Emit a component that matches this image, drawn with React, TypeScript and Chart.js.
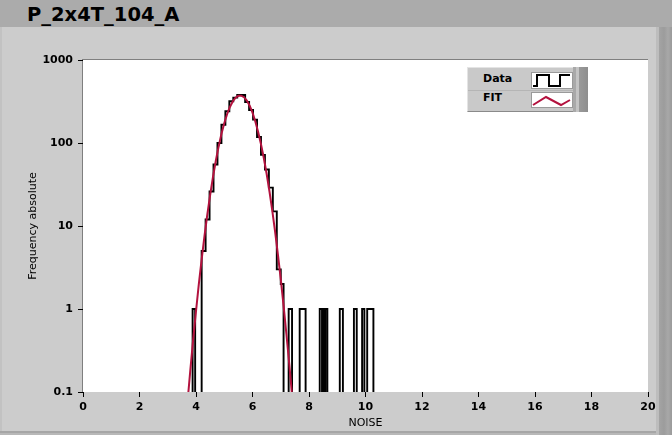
import React, { useEffect, useRef } from "react";
import { Chart, registerables } from "chart.js";

Chart.register(...registerables);

// Histogram: bin edges (NOISE) and the counts in each bin (edges[i] .. edges[i+1])
const histEdges = [
  3.88, 3.97, 4.2, 4.34, 4.48, 4.62, 4.76, 4.9, 5.04, 5.18, 5.32, 5.46, 5.6,
  5.74, 5.88, 6.02, 6.16, 6.3, 6.44, 6.58, 6.72, 6.86, 7.0, 7.1, 7.28, 7.4,
  7.67, 7.88, 8.38, 8.46, 8.51, 8.55, 8.58, 8.65, 9.09, 9.2, 9.59, 9.69, 9.88,
  9.96, 10.06, 10.28,
];
const histCounts = [
  1, 0, 5, 12, 26, 55, 100, 166, 241, 318, 352, 380, 378, 312, 250, 191, 118,
  72, 48, 29, 15, 3, 2, 0, 1, 0, 1, 0, 1, 0, 1, 0, 1, 0, 1, 0, 1, 0, 1, 0, 1,
];

// Fit curve
const fitX = [
  3.7, 3.8, 3.9, 4.0, 4.1, 4.2, 4.3, 4.4, 4.5, 4.6, 4.7, 4.8, 4.9, 5.0, 5.1,
  5.2, 5.3, 5.4, 5.5, 5.6, 5.7, 5.8, 5.9, 6.0, 6.1, 6.2, 6.3, 6.4, 6.5, 6.6,
  6.7, 6.8, 6.9, 7.0, 7.1, 7.2, 7.3, 7.4,
];
const fitY = [
  0.076, 0.185, 0.43, 0.94, 1.99, 3.96, 7.55, 13.7, 23.6, 38.8, 60.7, 90.3,
  128, 173, 222, 272, 316, 351, 370, 372, 356, 324, 281, 232, 182, 136, 97,
  65.9, 42.6, 26.2, 15.3, 8.53, 4.53, 2.29, 1.1, 0.5, 0.22, 0.091,
];

const xTicks = [0, 2, 4, 6, 8, 10, 12, 14, 16, 18, 20];
const yTicks = [0.1, 1, 10, 100, 1000];
const yTickLabels = ["0.1", "1", "10", "100", "1000"];

const FLOOR = 0.001; // empty bins fall below the axis (clipped)

const plotBg = {
  id: "plotBg",
  beforeDraw(chart: any) {
    const { ctx, chartArea: a } = chart;
    ctx.save();
    ctx.fillStyle = "#ffffff";
    ctx.fillRect(a.left, a.top, a.right - a.left, a.bottom - a.top);
    ctx.fillStyle = "#7f7f7f";
    ctx.fillRect(a.left - 1, a.top - 1, a.right - a.left + 1, 1);
    ctx.fillRect(a.left - 1, a.top - 1, 1, a.bottom - a.top + 1);
    ctx.restore();
  },
};

export default function App() {
  const ref = useRef<HTMLCanvasElement>(null);

  useEffect(() => {
    const pts: { x: number; y: number }[] = [{ x: histEdges[0], y: FLOOR }];
    for (let i = 0; i < histCounts.length; i++) {
      const c = histCounts[i] > 0 ? histCounts[i] : FLOOR;
      pts.push({ x: histEdges[i], y: c }, { x: histEdges[i + 1], y: c });
    }
    pts.push({ x: histEdges[histEdges.length - 1], y: FLOOR });
    const fitPts = fitX.map((x, i) => ({ x, y: fitY[i] }));

    const tickFont = { family: "DejaVu Sans", size: 11, weight: "bold" as const };
    const titleFont = { family: "DejaVu Sans", size: 11 };

    const chart = new Chart(ref.current!, {
      type: "line",
      data: {
        datasets: [
          {
            label: "FIT",
            data: fitPts,
            borderColor: "#b3123e",
            borderWidth: 2,
            pointRadius: 0,
            tension: 0,
            order: 0,
          },
          {
            label: "Data",
            data: pts,
            borderColor: "#000000",
            borderWidth: 1.9,
            pointRadius: 0,
            tension: 0,
            order: 1,
          },
        ],
      },
      options: {
        animation: false,
        responsive: false,
        devicePixelRatio: 1,
        layout: { padding: { left: 0, top: 60, right: 24, bottom: 3 } },
        plugins: { legend: { display: false }, tooltip: { enabled: false } },
        scales: {
          x: {
            type: "linear",
            min: 0,
            max: 20,
            afterFit: (s: any) => {
              s.height = 40;
            },
            afterBuildTicks: (s: any) => {
              s.ticks = xTicks.map((v) => ({ value: v }));
            },
            ticks: {
              color: "#000",
              font: tickFont,
              padding: 4,
              maxRotation: 0,
              autoSkip: false,
            },
            grid: {
              display: true,
              drawOnChartArea: false,
              drawTicks: true,
              tickLength: 5,
              color: "#000",
            },
            border: { display: false },
            title: {
              display: true,
              text: "NOISE",
              color: "#000",
              font: titleFont,
              padding: { top: 0, bottom: 2.4 },
            },
          },
          y: {
            type: "logarithmic",
            min: 0.1,
            max: 1000,
            afterFit: (s: any) => {
              s.width = 83;
            },
            afterBuildTicks: (s: any) => {
              s.ticks = yTicks.map((v) => ({ value: v }));
            },
            ticks: {
              color: "#000",
              font: tickFont,
              padding: 5,
              autoSkip: false,
              callback: (v: any) => {
                const i = yTicks.findIndex((t) => Math.abs(t - v) < 1e-9);
                return i >= 0 ? yTickLabels[i] : "";
              },
            },
            grid: {
              display: true,
              drawOnChartArea: false,
              drawTicks: true,
              tickLength: 5,
              color: "#000",
            },
            border: { display: false },
            title: {
              display: true,
              text: "Frequency absolute",
              color: "#000",
              font: titleFont,
              padding: { top: 26.4, bottom: 0 },
            },
          },
        },
      },
      plugins: [plotBg],
    });
    return () => chart.destroy();
  }, []);

  const bold = "'DejaVu Sans', sans-serif";

  return (
    <div
      style={{
        position: "fixed",
        left: 0,
        top: 0,
        width: 672,
        height: 435,
        background: "#cccccc",
        overflow: "hidden",
      }}
    >
      <div
        style={{
          position: "absolute",
          left: 0,
          top: 0,
          width: 672,
          height: 27,
          background: "#ababab",
        }}
      />
      <div
        style={{
          position: "absolute",
          left: 27,
          top: 4,
          fontFamily: bold,
          fontWeight: "bold",
          fontSize: 19.5,
          lineHeight: "22px",
          color: "#000",
          whiteSpace: "nowrap",
        }}
      >
        P_2x4T_104_A
      </div>
      <div
        style={{
          position: "absolute",
          left: 0,
          top: 27,
          width: 2,
          height: 408,
          background: "#c2c2c2",
        }}
      />
      <div
        style={{
          position: "absolute",
          left: 656,
          top: 27,
          width: 16,
          height: 408,
          background:
            "linear-gradient(to right, #bdbdbd 0px, #bdbdbd 3px, #a4a4a4 3px, #9c9c9c 8px, #a8a8a8 12px, #9a9a9a 16px)",
        }}
      />
      <div
        style={{
          position: "absolute",
          left: 0,
          top: 431,
          width: 656,
          height: 4,
          background: "linear-gradient(to bottom, #a6a6a6 0px, #a6a6a6 2px, #b8b8b8 2px)",
        }}
      />
      <canvas
        ref={ref}
        width={672}
        height={435}
        style={{ position: "absolute", left: 0, top: 0, width: 672, height: 435 }}
      />
      {/* Legend */}
      <div
        style={{
          position: "absolute",
          left: 467,
          top: 67,
          width: 106,
          height: 45,
          background: "#c9c9c9",
          borderTop: "1px solid #e4e4e4",
          borderLeft: "1px solid #e4e4e4",
          borderBottom: "1px solid #8a8a8a",
          boxSizing: "border-box",
        }}
      />
      <div
        style={{
          position: "absolute",
          left: 573,
          top: 67,
          width: 15,
          height: 45,
          background:
            "linear-gradient(to right, #a9a9a9 0px, #a9a9a9 3px, #c4c4c4 3px, #c4c4c4 6px, #9a9a9a 6px, #8e8e8e 15px)",
        }}
      />
      <div
        style={{
          position: "absolute",
          left: 468,
          top: 90,
          width: 105,
          height: 1,
          background: "#b5b5b5",
        }}
      />
      <div
        style={{
          position: "absolute",
          left: 483,
          top: 72,
          fontFamily: bold,
          fontWeight: "bold",
          fontSize: 11,
          lineHeight: "13px",
          color: "#000",
        }}
      >
        Data
      </div>
      <div
        style={{
          position: "absolute",
          left: 483,
          top: 91,
          fontFamily: bold,
          fontWeight: "bold",
          fontSize: 11,
          lineHeight: "13px",
          color: "#000",
        }}
      >
        FIT
      </div>
      <svg
        style={{ position: "absolute", left: 531, top: 72 }}
        width={42}
        height={17}
      >
        <rect x={0.5} y={0.5} width={41} height={16} fill="#ffffff" stroke="#9a9a9a" />
        <polyline
          points="2,14 6,14 6,3 18,3 18,14 29,14 29,3 39,3"
          fill="none"
          stroke="#000"
          strokeWidth={2}
        />
      </svg>
      <svg
        style={{ position: "absolute", left: 531, top: 92 }}
        width={42}
        height={16}
      >
        <rect x={0.5} y={0.5} width={41} height={15} fill="#ffffff" stroke="#9a9a9a" />
        <polyline
          points="2,13 15,5 30,13 39,8"
          fill="none"
          stroke="#b3123e"
          strokeWidth={2}
        />
      </svg>
    </div>
  );
}
